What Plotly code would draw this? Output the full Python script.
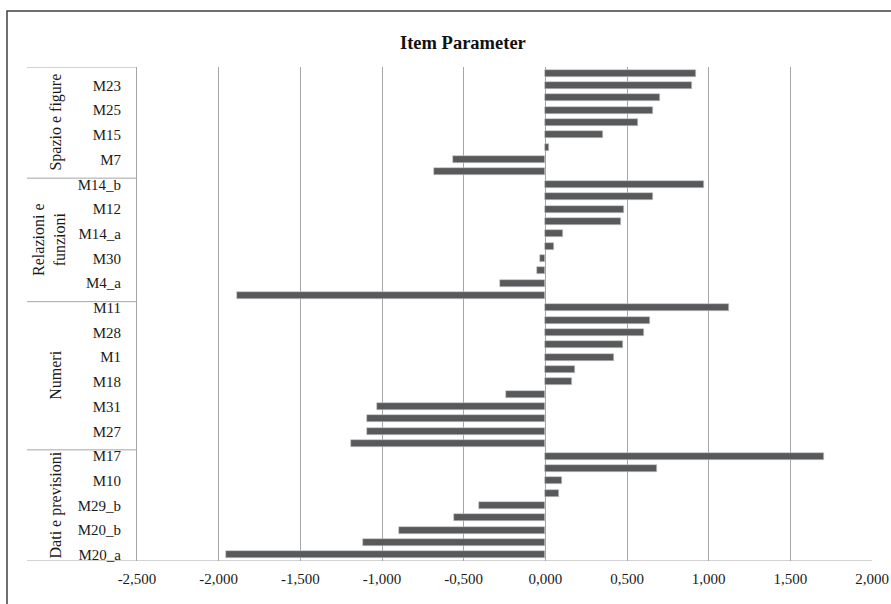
import plotly.graph_objects as go

# ---- data (bottom-up within each group) ----
groups = ["Dati e previsioni", "Numeri", "Relazioni e funzioni", "Spazio e figure"]
group_display = ["Dati e previsioni", "Numeri", "Relazioni e<br>funzioni", "Spazio e figure"]

dati_labels = ["M20_a", "", "M20_b", "", "M29_b", "", "M10", "", "M17"]
dati_values = [-1.955, -1.115, -0.899, -0.560, -0.405, 0.086, 0.100, 0.682, 1.704]

numeri_labels = ["", "M27", "", "M31", "", "M18", "", "M1", "", "M28", "", "M11"]
numeri_values = [-1.192, -1.093, -1.091, -1.032, -0.240, 0.165, 0.180, 0.418, 0.476, 0.606, 0.639, 1.122]

relazioni_labels = ["", "M4_a", "", "M30", "", "M14_a", "", "M12", "", "M14_b"]
relazioni_values = [-1.887, -0.280, -0.049, -0.035, 0.051, 0.106, 0.463, 0.482, 0.659, 0.973]

spazio_labels = ["", "M7", "", "M15", "", "M25", "", "M23", ""]
spazio_values = [-0.682, -0.564, 0.024, 0.351, 0.567, 0.657, 0.700, 0.898, 0.920]

x_ticks = [-2.5, -2.0, -1.5, -1.0, -0.5, 0.0, 0.5, 1.0, 1.5, 2.0]

title_text = "Item Parameter"

# ---- assemble ----
group_labels = [dati_labels, numeri_labels, relazioni_labels, spazio_labels]
group_values = [dati_values, numeri_values, relazioni_values, spazio_values]

labels, values = [], []
for lab, val in zip(group_labels, group_values):
    labels += lab
    values += val
positions = list(range(len(values)))

FONT = "Liberation Serif, Times New Roman, serif"
GRID = "#a6a6a8"
TXT = "#1a1a1a"

fig = go.Figure()
fig.add_trace(go.Bar(
    x=values, y=positions, orientation="h",
    width=0.57,
    marker=dict(color="#58595b", line=dict(color="#c8c8c8", width=0.6)),
    hoverinfo="x",
))

tickvals = [p for p, l in zip(positions, labels) if l]
ticktext = [l for l in labels if l]

n = len(values)
W, H = 891, 604
L, R, T, B = 137, 19, 67, 43
pw, ph = W - L - R, H - T - B

def px_x(px):
    return (px - L) / pw

def px_y(py):
    return (H - B - py) / ph

fig.update_layout(
    template="none",
    width=W, height=H,
    margin=dict(l=L, r=R, t=T, b=B, autoexpand=False),
    paper_bgcolor="white", plot_bgcolor="white",
    showlegend=False,
    font=dict(family=FONT, size=15, color=TXT),
    bargap=0,
)

fig.update_xaxes(
    automargin=False,
    range=[x_ticks[0], x_ticks[-1]],
    tickvals=x_ticks,
    ticktext=[f"{v:.3f}".replace(".", ",") for v in x_ticks],
    showgrid=True, gridcolor=GRID, gridwidth=1,
    zeroline=True, zerolinecolor=GRID, zerolinewidth=1,
    showline=False,
    ticks="outside", ticklen=4, tickcolor="rgba(0,0,0,0)",
    tickfont=dict(family=FONT, size=15, color=TXT),
)
fig.update_yaxes(
    automargin=False,
    range=[-0.5, n - 0.5],
    tickvals=tickvals, ticktext=ticktext,
    showgrid=False, zeroline=False,
    showline=True, linecolor=GRID, linewidth=1,
    ticks="", ticklabelstandoff=12,
    tickfont=dict(family=FONT, size=15, color=TXT),
)

shapes = []
# group separator lines in the category area
bounds = [0]
for lab in group_labels:
    bounds.append(bounds[-1] + len(lab))
for i, bnd in enumerate(bounds):
    x1 = 1.0 if i == 0 else 0.0
    shapes.append(dict(type="line", xref="paper", yref="y",
                       x0=px_x(27), x1=x1, y0=bnd - 0.5, y1=bnd - 0.5,
                       line=dict(color=GRID, width=1)))
# outer chart border
shapes.append(dict(type="rect", xref="paper", yref="paper",
                   x0=px_x(7), x1=px_x(900), y0=px_y(612), y1=px_y(11),
                   line=dict(color="#404040", width=1.5), fillcolor="rgba(0,0,0,0)",
                   layer="above"))

annotations = []
for i, name in enumerate(group_display):
    mid = (bounds[i] + bounds[i + 1] - 1) / 2
    xc = 49 if "<br>" in name else 56
    annotations.append(dict(text=name, xref="paper", yref="y",
                            x=px_x(xc), y=mid, textangle=-90, showarrow=False,
                            xanchor="center", yanchor="middle",
                            font=dict(family=FONT, size=16, color=TXT)))
annotations.append(dict(text=f"<b>{title_text}</b>", xref="paper", yref="paper",
                        x=px_x(463), y=px_y(43), showarrow=False,
                        xanchor="center", yanchor="middle",
                        font=dict(family=FONT, size=18.5, color="#111111")))

fig.update_layout(shapes=shapes, annotations=annotations)

fig.write_html(
    "out.html",
    config={"displayModeBar": False, "responsive": False},
    post_script="document.body.style.margin='0px';document.body.style.overflow='hidden';",
)
